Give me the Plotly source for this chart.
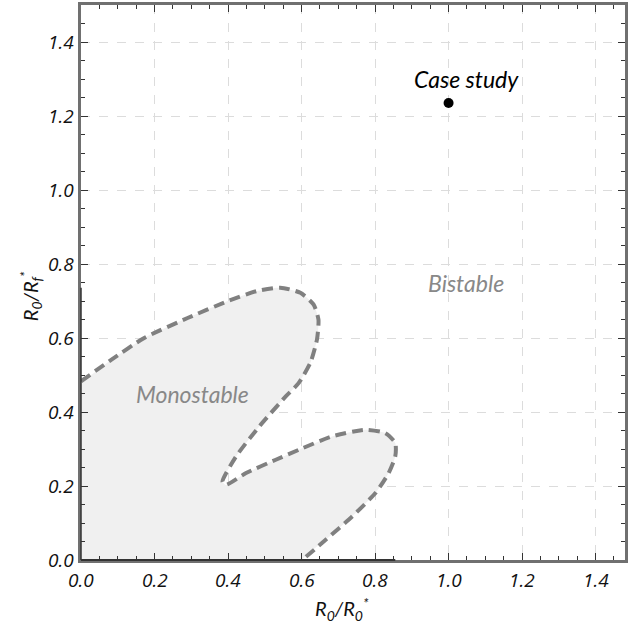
import plotly.graph_objects as go

# Boundary of monostable region
curve_x = [0.000, 0.082, 0.172, 0.290, 0.398, 0.479, 0.542, 0.597, 0.633, 0.646, 0.642,
           0.624, 0.592, 0.557, 0.485, 0.422, 0.385, 0.394, 0.449, 0.530, 0.593,
           0.683, 0.774, 0.828, 0.855, 0.855, 0.837, 0.801, 0.737, 0.665, 0.602]
curve_y = [0.483, 0.541, 0.600, 0.654, 0.699, 0.727, 0.736, 0.722, 0.690, 0.650, 0.596,
           0.533, 0.478, 0.442, 0.361, 0.280, 0.212, 0.203, 0.235, 0.271, 0.298,
           0.334, 0.352, 0.343, 0.316, 0.280, 0.235, 0.181, 0.117, 0.054, 0.000]

case_x = [1.0]
case_y = [1.235]
case_label = "Case study"

tick_vals = [0.0, 0.2, 0.4, 0.6, 0.8, 1.0, 1.2, 1.4]
tick_text = ["0.0", "0.2", "0.4", "0.6", "0.8", "1.0", "1.2", "1.4"]

FONT = "Lato"
TICKFONT = dict(family="Open Sans", size=19, color="#111", style="italic", weight=400)

fig = go.Figure()

# Filled region (closed with points outside the axes)
fill_x = curve_x + [curve_x[-1], -0.1, -0.1, curve_x[0]]
fill_y = curve_y + [-0.1, -0.1, curve_y[0], curve_y[0]]
fig.add_trace(go.Scatter(x=fill_x, y=fill_y, mode="lines", fill="toself",
                         fillcolor="#f0f0f0", line=dict(width=0, shape="spline", smoothing=0.6),
                         hoverinfo="skip", showlegend=False))

fig.add_trace(go.Scatter(x=curve_x, y=curve_y, mode="lines",
                         line=dict(color="#808080", width=4, dash="11px,6px",
                                   shape="spline", smoothing=0.6),
                         showlegend=False))

fig.add_trace(go.Scatter(x=case_x, y=case_y, mode="markers",
                         marker=dict(color="black", size=10), showlegend=False))

axis_common = dict(
    tickvals=tick_vals, showticklabels=False,
    ticks="inside", ticklen=7, tickwidth=1.3, tickcolor="#333",
    minor=dict(ticks="inside", dtick=0.05, ticklen=4, tickwidth=1, tickcolor="#333", showgrid=False),
    showgrid=True, gridcolor="#dcdcdc", griddash="dash", gridwidth=1,
    showline=True, linecolor="#707070", linewidth=2.5, mirror="ticks",
    zeroline=False,
)

fig.update_xaxes(range=[0, 1.48], **axis_common)
fig.update_yaxes(range=[0, 1.5], **axis_common)

# darker spine segments spanning the curve's extent
fig.add_shape(type="line", xref="paper", yref="y", x0=0, x1=0, y0=0, y1=max(curve_y),
              line=dict(color="#333333", width=1.5))
fig.add_shape(type="line", xref="x", yref="paper", x0=0, x1=max(curve_x), y0=0, y1=0,
              line=dict(color="#333333", width=2))

annotations = []
# italic tick labels
for v, t in zip(tick_vals, tick_text):
    annotations.append(dict(x=v, y=0, xref="x", yref="paper", text=t, showarrow=False,
                            xanchor="center", yanchor="top", yshift=-5, font=TICKFONT))
    annotations.append(dict(x=0, y=v, xref="paper", yref="y", text=t, showarrow=False,
                            xanchor="right", yanchor="middle", xshift=-5, font=TICKFONT))

annotations += [
    dict(x=1.048, y=1.30, xref="x", yref="y", text=case_label, showarrow=False,
         font=dict(family=FONT, size=23, color="black", style="italic")),
    dict(x=1.048, y=0.75, xref="x", yref="y", text="Bistable", showarrow=False,
         font=dict(family=FONT, size=23, color="#888888", style="italic")),
    dict(x=0.303, y=0.449, xref="x", yref="y", text="Monostable", showarrow=False,
         font=dict(family=FONT, size=23, color="#888888", style="italic")),
    dict(x=0.4795, y=-0.088, xref="paper", yref="paper", yanchor="middle", xanchor="center",
         text="R<sub>0</sub>/R<sub>0</sub><sup>*</sup>", showarrow=False,
         font=dict(family=FONT, size=20, color="#111", style="italic")),
    dict(x=-0.093, y=0.476, xref="paper", yref="paper", textangle=-90,
         xanchor="center", yanchor="middle",
         text="R<sub>0</sub>/R<sub>f</sub><sup>*</sup>", showarrow=False,
         font=dict(family=FONT, size=20, color="#111", style="italic")),
]

fig.update_layout(
    width=628, height=629,
    margin=dict(l=81, r=0, t=5, b=69),
    plot_bgcolor="white", paper_bgcolor="white",
    annotations=annotations,
    showlegend=False,
)

fig.write_html("out.html")
